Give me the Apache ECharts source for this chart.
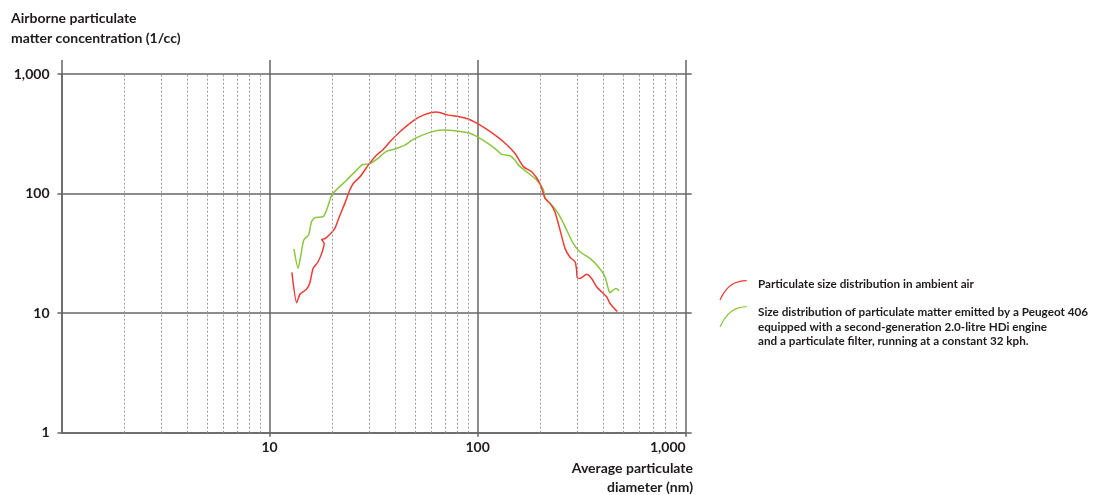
<!DOCTYPE html>
<html>
<head>
<meta charset="utf-8">
<script src="https://cdn.jsdelivr.net/npm/echarts@6/dist/echarts.min.js"></script>
<style>
  html, body { margin: 0; padding: 0; background: #fff; }
  #chart { width: 1108px; height: 495px; }
</style>
</head>
<body>
<div id="chart"></div>
<script>
// [diameter nm, concentration 1/cc]
var ambientAir = [
  [12.8, 21.9], [13.5, 12.2], [14.0, 14.4], [15.0, 15.8], [15.6, 17.8], [16.2, 23.7],
  [17.1, 26.9], [17.8, 31.6], [18.3, 38.3], [17.8, 41.3], [18.5, 42.1], [19.5, 45.6],
  [20.6, 51.2], [21.8, 66.1], [23.0, 82.8], [24.3, 107], [25.3, 122], [27.2, 138],
  [30.1, 177], [32.7, 210], [35.2, 234], [38.6, 280], [42.3, 329], [49.0, 406],
  [54.8, 453], [63.5, 480], [72.2, 453], [80.7, 442], [90.1, 420], [101, 381],
  [115, 329], [133, 271], [151, 217], [166, 168], [182, 152], [199, 122],
  [211, 91.2], [223, 82.8], [235, 70.4], [249, 49.5], [263, 34.8], [278, 29.3],
  [294, 26.9], [299, 22.9], [301, 19.9], [310, 19.5], [334, 21.1], [353, 19.5],
  [373, 16.6], [394, 15.1], [417, 13.7], [432, 12.1], [457, 10.8], [469, 10.3]
];
var peugeotFilter = [
  [13.1, 34.4], [13.7, 23.7], [14.1, 29.6], [14.6, 40.9], [15.4, 45.0], [15.9, 58.1],
  [16.5, 62.8], [18.1, 64.0], [18.8, 72.8], [19.9, 97.2], [21.0, 108], [23.5, 130],
  [26.2, 157], [28.0, 175], [30.1, 177], [32.7, 193], [36.3, 224], [40.1, 236],
  [44.7, 254], [49.0, 284], [59.0, 325], [68.4, 340], [79.3, 333], [91.8, 319],
  [106, 280], [121, 239], [130, 214], [143, 207], [151, 191], [157, 173],
  [172, 152], [192, 130], [207, 108], [211, 91.2], [231, 77.6], [249, 64.0],
  [268, 49.5], [288, 38.3], [310, 32.6], [347, 28.7], [380, 24.4], [409, 20.2],
  [424, 16.1], [432, 14.8], [448, 15.6], [462, 16.1], [479, 15.4]
];
// 虚线网格
var minorDiameters = [2, 3, 4, 5, 6, 7, 8, 9, 20, 30, 40, 50, 60, 70, 80, 90, 200, 300, 400, 500, 600, 700, 800, 900];

var seriesNames = [
  'Particulate size distribution in ambient air',
  'Size distribution of particulate matter emitted by a Peugeot 406\nequipped with a second-generation 2.0-litre HDi engine\nand a particulate filter, running at a constant 32 kph.'
];
var yAxisName = 'Airborne particulate\nmatter concentration (1/cc)';
var xAxisName = 'Average particulate\ndiameter (nm)';

var FONT = 'Lato';
var AXIS = '#666666';
var TEXT = '#1f1b1c';
var RED = '#ee3b33';
var GREEN = '#8cc63f';

function fmt(v) {
  return Number(v).toLocaleString('en-US');
}

var chart = echarts.init(document.getElementById('chart'), null, { renderer: 'canvas' });

var majorLine = { show: true, lineStyle: { color: AXIS, width: 1.5, type: 'solid' } };

var option = {
  backgroundColor: '#fff',
  animation: false,
  textStyle: { fontFamily: FONT },
  grid: { left: 61.5, right: 422.3, top: 74, bottom: 62.3, containLabel: false },
  xAxis: [{
    type: 'log', logBase: 10, min: 1, max: 1000, position: 'bottom',
    axisLine: majorLine,
    axisTick: { show: true, length: 4, lineStyle: { color: AXIS, width: 1.5 } },
    splitLine: majorLine,
    minorTick: { show: false },
    axisLabel: {
      formatter: fmt, showMinLabel: false, alignMaxLabel: 'right', margin: 8,
      color: TEXT, fontSize: 14, fontWeight: 'bold', fontFamily: FONT
    }
  }, {
    // 顶部延长线
    type: 'log', logBase: 10, min: 1, max: 1000, position: 'top',
    axisLine: { show: false },
    axisTick: { show: true, length: 14, lineStyle: { color: AXIS, width: 1.5 } },
    axisLabel: { show: false },
    splitLine: { show: false }
  }],
  yAxis: [{
    type: 'log', logBase: 10, min: 1, max: 1000, position: 'left',
    axisLine: majorLine,
    axisTick: { show: true, length: 4, lineStyle: { color: AXIS, width: 1.5 } },
    splitLine: majorLine,
    axisLabel: {
      formatter: fmt, margin: 12,
      color: TEXT, fontSize: 14, fontWeight: 'bold', fontFamily: FONT
    }
  }, {
    type: 'log', logBase: 10, min: 1, max: 1000, position: 'right',
    axisLine: { show: false },
    axisTick: { show: true, length: 6, lineStyle: { color: AXIS, width: 1.5 } },
    axisLabel: { show: false },
    splitLine: { show: false }
  }],
  series: [{
    name: 'minor',
    type: 'line',
    data: [],
    z: 1,
    silent: true,
    markLine: {
      silent: true,
      symbol: 'none',
      label: { show: false },
      lineStyle: { color: '#9a9a9a', width: 1, type: [2, 2] },
      data: minorDiameters.map(function (d) { return { xAxis: d }; })
    }
  }, {
    name: seriesNames[0],
    type: 'line',
    data: ambientAir,
    z: 3,
    showSymbol: false,
    smooth: 0.2,
    lineStyle: { color: RED, width: 1.5 }
  }, {
    name: seriesNames[1],
    type: 'line',
    data: peugeotFilter,
    z: 2,
    showSymbol: false,
    smooth: 0.2,
    lineStyle: { color: GREEN, width: 1.5 }
  }],
  graphic: [{
    type: 'text', x: 11, y: 8,
    style: { text: yAxisName, fill: TEXT, font: 'bold 14px ' + FONT, lineHeight: 20 }
  }, {
    type: 'text', x: 693, y: 459,
    style: { text: xAxisName, fill: TEXT, font: 'bold 14px ' + FONT, lineHeight: 19, align: 'right' }
  }, {
    type: 'bezierCurve',
    shape: { x1: 720, y1: 300, x2: 746.7, y2: 280.7, cpx1: 727, cpy1: 285, cpx2: 735, cpy2: 281 },
    style: { stroke: RED, lineWidth: 1.2, fill: null }
  }, {
    type: 'bezierCurve',
    shape: { x1: 720, y1: 327, x2: 746.7, y2: 306.7, cpx1: 727, cpy1: 312, cpx2: 735, cpy2: 307 },
    style: { stroke: GREEN, lineWidth: 1.2, fill: null }
  }, {
    type: 'text', x: 758, y: 277,
    style: { text: seriesNames[0], fill: TEXT, font: 'bold 11.7px ' + FONT, lineHeight: 14.3 }
  }, {
    type: 'text', x: 758, y: 305.5,
    style: { text: seriesNames[1], fill: TEXT, font: 'bold 11.7px ' + FONT, lineHeight: 14.3 }
  }]
};

chart.setOption(option);
</script>
</body>
</html>
